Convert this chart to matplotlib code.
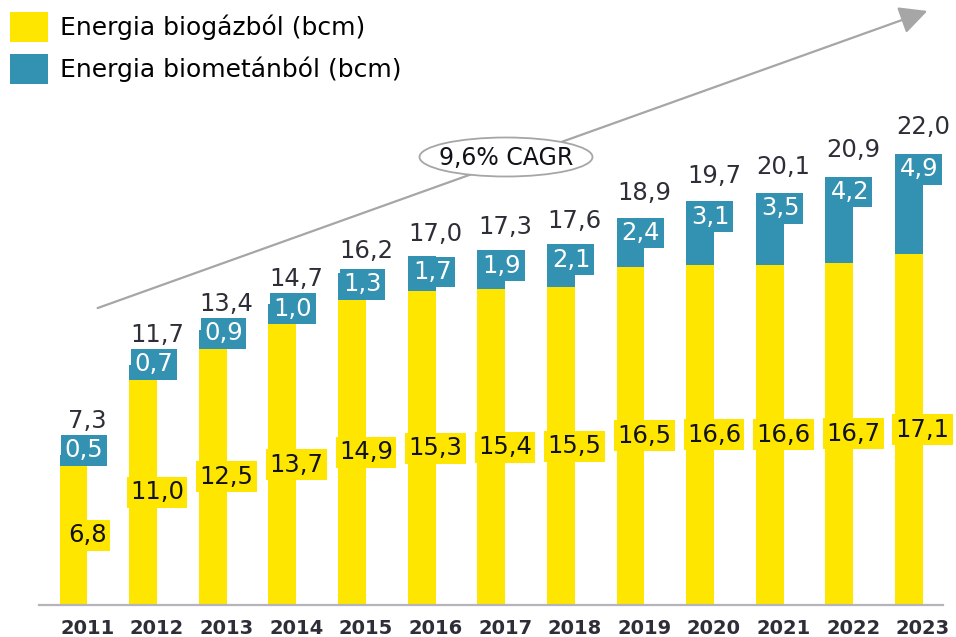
import numpy as np
import matplotlib.pyplot as plt
from matplotlib.patches import Ellipse, FancyArrowPatch

years = ["2011", "2012", "2013", "2014", "2015", "2016", "2017",
         "2018", "2019", "2020", "2021", "2022", "2023"]
biogas = [6.8, 11.0, 12.5, 13.7, 14.9, 15.3, 15.4, 15.5, 16.5, 16.6, 16.6, 16.7, 17.1]
biomethane = [0.5, 0.7, 0.9, 1.0, 1.3, 1.7, 1.9, 2.1, 2.4, 3.1, 3.5, 4.2, 4.9]
totals = [7.3, 11.7, 13.4, 14.7, 16.2, 17.0, 17.3, 17.6, 18.9, 19.7, 20.1, 20.9, 22.0]
cagr_label = "9,6% CAGR"
legend_labels = ["Energia biogázból (bcm)", "Energia biometánból (bcm)"]

YELLOW = "#FFE600"
BLUE = "#3391B2"
DARK = "#2E2E38"
GREY = "#A6A6A6"

W, H = 956, 637


def fmt(v):
    return f"{v:.1f}".replace(".", ",")


fig = plt.figure(figsize=(W / 100, H / 100), dpi=100)
# axes: baseline at y=605px, bars spaced ~69.6px
ax = fig.add_axes([39 / W, (H - 605) / H, (943 - 39) / W, 605 / H])
ax.set_xlim(-0.496, 12.49)
ax.set_ylim(0, 605 / 20.5)

x = np.arange(len(years))
bw = 0.40
b1 = ax.bar(x, biogas, bw, color=YELLOW, zorder=2)
b2 = ax.bar(x, biomethane, bw, bottom=biogas, color=BLUE, zorder=2)

for spine in ["top", "right", "left"]:
    ax.spines[spine].set_visible(False)
ax.spines["bottom"].set_color("#B4B4BA")
ax.spines["bottom"].set_linewidth(1.6)
ax.set_yticks([])
# year labels sit under the right edge of each bar, like the labels
ax.set_xticks(x + bw / 2)
ax.set_xticklabels(years, fontsize=14, fontweight="bold", color=DARK)
ax.tick_params(axis="x", length=0, pad=10)

for i in x:
    # biogas label, centred on right edge of the bar
    ax.text(i + bw / 2, biogas[i] / 2, fmt(biogas[i]), ha="center", va="center",
            fontsize=17.5, color="#111118", zorder=4,
            bbox=dict(boxstyle="square,pad=0.14", fc=YELLOW, ec="none"))
    # biomethane label, top of segment (or sitting on the yellow bar when segment is small)
    box_top = max(totals[i], biogas[i] + 1.5)
    ax.text(i - bw / 2 + 0.075, box_top - 0.17, fmt(biomethane[i]), ha="left", va="top",
            fontsize=17.5, color="white", zorder=4,
            bbox=dict(boxstyle="square,pad=0.14", fc=BLUE, ec="none"))
    # total
    ty = max(totals[i] * 1.045, box_top + 0.35)
    ax.text(i + bw / 2, ty, fmt(totals[i]), ha="center", va="baseline",
            fontsize=17.5, color=DARK, zorder=4)

# legend
fig.legend([b1, b2], legend_labels, loc="upper left",
           bbox_to_anchor=(10 / W, 1 - 12 / H), frameon=False, fontsize=18,
           handlelength=1.52, handleheight=1.45, handletextpad=0.5,
           labelspacing=0.5, borderpad=0, borderaxespad=0)

# CAGR arrow and bubble (figure pixel positions)
arrow = FancyArrowPatch((95 / W, 1 - 309 / H), (930 / W, 1 - 10 / H),
                        transform=fig.transFigure, arrowstyle="-|>,head_length=0.9,head_width=0.45",
                        mutation_scale=19, color=GREY, lw=1.6, zorder=1)
fig.add_artist(arrow)
ell = Ellipse((506 / W, 1 - 157 / H), 173 / W, 39 / H, transform=fig.transFigure,
              fc="white", ec=GREY, lw=1.3, zorder=2)
fig.add_artist(ell)
fig.text(506 / W, 1 - 158 / H, cagr_label, ha="center", va="center",
         fontsize=17, color="#111118", zorder=3)

fig.savefig("out.png", dpi=100)
